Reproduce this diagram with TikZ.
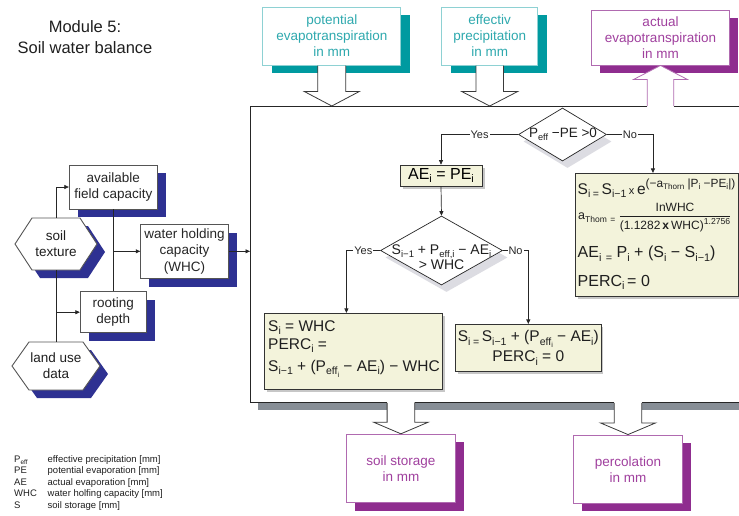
\documentclass[tikz,border=0pt]{standalone}
\usepackage{fontspec}
\setmainfont{Liberation Sans}
\usetikzlibrary{arrows.meta,shapes.geometric,shadows,calc}
\definecolor{teal1}{HTML}{009AA0}
\definecolor{tealB}{HTML}{8ED1D3}
\definecolor{tealT}{HTML}{2EA9AE}
\definecolor{purp}{HTML}{8F2D8F}
\definecolor{purpB}{HTML}{B06AB0}
\definecolor{purpT}{HTML}{A0409E}
\definecolor{navy}{HTML}{2E3192}
\definecolor{shgray}{HTML}{878E96}
\definecolor{cream}{HTML}{F3F3DB}
\definecolor{dshadow}{HTML}{DCDCE2}
\definecolor{arrc}{HTML}{3A3A3A}
\definecolor{boxd}{HTML}{555555}
\makeatletter
\newcommand\sbx[1]{\raisebox{\fpeval{-0.22*\f@size}pt}{\fontsize{\fpeval{0.68*\f@size}}{1}\selectfont #1}}
\newcommand\spx[1]{\raisebox{\fpeval{0.42*\f@size}pt}{\fontsize{\fpeval{0.72*\f@size}}{1}\selectfont #1}}
\makeatother
\newcommand\blkdown[7]{%
 \fill[white] let \p1=#1, \p2=#2 in (\x2-#4,\y1#7) -- (\x2-#4,\y2+#6) -- (\x2-#5,\y2+#6) -- (\x2,\y2) -- (\x2+#5,\y2+#6) -- (\x2+#4,\y2+#6) -- (\x2+#4,\y1#7) -- cycle;
 \draw[#3,line width=0.8pt] let \p1=#1, \p2=#2 in (\x2-#4,\y1) -- (\x2-#4,\y2+#6) -- (\x2-#5,\y2+#6) -- (\x2,\y2) -- (\x2+#5,\y2+#6) -- (\x2+#4,\y2+#6) -- (\x2+#4,\y1);}
\newcommand\blkup[7]{%
 \fill[white] let \p1=#1, \p2=#2 in (\x2-#4,\y1#7) -- (\x2-#4,\y2-#6) -- (\x2-#5,\y2-#6) -- (\x2,\y2) -- (\x2+#5,\y2-#6) -- (\x2+#4,\y2-#6) -- (\x2+#4,\y1#7) -- cycle;
 \draw[#3,line width=0.8pt] let \p1=#1, \p2=#2 in (\x2-#4,\y1) -- (\x2-#4,\y2-#6) -- (\x2-#5,\y2-#6) -- (\x2,\y2) -- (\x2+#5,\y2-#6) -- (\x2+#4,\y2-#6) -- (\x2+#4,\y1);}
\begin{document}
\begin{tikzpicture}[x=1pt,y=-1pt,
  tbox/.style={draw=tealB, line width=1pt, fill=white, text=tealT, align=center, inner sep=0pt,
    font=\fontsize{13.5}{16}\selectfont,
    drop shadow={fill=teal1, opacity=1, shadow xshift=9pt, shadow yshift=-8pt}},
  pbox/.style={draw=purpB, line width=1pt, fill=white, text=purpT, align=center, inner sep=0pt,
    font=\fontsize{13.5}{16}\selectfont,
    drop shadow={fill=purp, opacity=1, shadow xshift=8.5pt, shadow yshift=-8pt}},
  nbox/.style={draw=boxd, line width=0.9pt, fill=white, text=black!85, align=center, inner sep=0pt,
    font=\fontsize{13.5}{16.5}\selectfont,
    drop shadow={fill=navy, opacity=1, shadow xshift=8.3pt, shadow yshift=-8.3pt}},
  cbox/.style={draw=black!80, line width=0.7pt, fill=cream, inner sep=0pt,
    drop shadow={fill=black!22, opacity=1, shadow xshift=2.5pt, shadow yshift=-2.5pt}},
  dia/.style={diamond, draw=black!85, line width=0.7pt, fill=white, inner sep=0pt,
    drop shadow={fill=dshadow, opacity=1, shadow xshift=5pt, shadow yshift=-7pt}},
  hexs/.style={draw=boxd, line width=0.9pt, fill=white},
  txt/.style={inner sep=0pt, text=black!88},
  ln/.style={draw=black!85, line width=0.7pt},
  arr/.style={draw=black!85, line width=0.7pt, -{Triangle[length=4.5pt,width=4pt]}},
  lbl/.style={fill=white, inner sep=1pt, text=black!85, font=\fontsize{11}{13}\selectfont}]
\useasboundingbox (0,0) rectangle (739,515);
\clip (0,0) rectangle (739,515);

% title
\node[txt, font=\fontsize{16.5}{21}\selectfont, align=center] (title) at (85,37.5) {Module 5:\\Soil water balance};

% big frame
\node[draw=black!85, line width=0.8pt, fill=white, inner sep=0pt, minimum width=500pt, minimum height=296pt,
  anchor=north west, drop shadow={fill=shgray, opacity=1, shadow xshift=8pt, shadow yshift=-7.5pt}] (big) at (250,106) {};

% top and bottom boxes
\node[tbox, minimum width=137.7pt, minimum height=58pt] (pe) at (331.8,36) {potential\\evapotranspiration\\in mm};
\node[tbox, minimum width=96pt, minimum height=58pt] (ep) at (489.7,36) {effectiv\\precipitation\\in mm};
\node[pbox, minimum width=137.6pt, minimum height=55pt] (ae) at (660.5,37.5) {actual\\evapotranspiration\\in mm};
\node[pbox, minimum width=109.7pt, minimum height=68.4pt] (ss) at (400.9,468.5) {soil storage\\in mm};
\node[pbox, minimum width=109.4pt, minimum height=68.3pt] (perc) at (628,469.2) {percolation\\in mm};

% block arrows
\blkdown{(pe.south)}{(pe.south |- big.north)}{arrc}{14pt}{27.5pt}{14.5pt}{-0.6pt}
\blkdown{(ep.south)}{(ep.south |- big.north)}{arrc}{13.7pt}{28pt}{14.5pt}{-0.6pt}
\blkup{(ae.south |- big.north)}{(ae.south)}{purpB}{13.3pt}{27pt}{14pt}{-0.8pt}
\blkdown{(big.south -| ss.north)}{(ss.north)}{arrc}{13.8pt}{27.3pt}{11.6pt}{+0.8pt}
\blkdown{(big.south -| perc.north)}{(perc.north)}{arrc}{13.8pt}{27.5pt}{11.6pt}{+0.8pt}

% left inputs
\fill[navy] (23,252) -- (40,226) -- (88,226) -- (105,252) -- (88,278) -- (40,278) -- cycle;
\draw[hexs] (15,244) -- (32,218) -- (80,218) -- (97,244) -- (80,270) -- (32,270) -- cycle;
\node[txt, minimum width=82pt, minimum height=52pt, align=center, font=\fontsize{13.5}{16}\selectfont] (tex) at (56,244) {soil\\texture};
\fill[navy] (20,374) -- (37,350) -- (91,350) -- (108,374) -- (91,398) -- (37,398) -- cycle;
\draw[hexs] (12,366) -- (29,342) -- (83,342) -- (100,366) -- (83,390) -- (29,390) -- cycle;
\node[txt, minimum width=88pt, minimum height=48pt, align=center, font=\fontsize{13.5}{16}\selectfont] (luse) at (56,366) {land use\\data};

\node[nbox, minimum width=88pt, minimum height=44pt] (afc) at (113.3,187) {available\\field capacity};
\node[nbox, minimum width=87.6pt, minimum height=54pt] (whc) at (184.5,251.3) {water holding\\capacity\\(WHC)};
\node[nbox, minimum width=66pt, minimum height=41pt] (rd) at (113.3,312.2) {rooting\\depth};

\draw[arr] (tex.north) |- (afc.west);
\draw[ln] (tex.south) -- (luse.north);
\draw[arr] (tex.south |- rd.west) -- (rd.west);
\draw[ln] (afc.south) -- (rd.north);
\draw[arr] (afc.south |- whc.west) -- (whc.west);
\draw[arr] (whc.east) -- (whc.east -| big.west);

% flowchart
\node[dia, minimum width=88pt, minimum height=53pt] (d1) at (562.5,134.5) {};
\node[txt, font=\fontsize{13.5}{16}\selectfont] (d1t) at (563,134) {P\sbx{eff} −PE >0};
\node[cbox, minimum width=82pt, minimum height=21pt, font=\fontsize{16}{18}\selectfont] (ae1) at (441,175.5) {AE\sbx{i} = PE\sbx{i}};
\node[dia, minimum width=122pt, minimum height=69pt] (d2) at (441.5,250.5) {};
\node[txt, font=\fontsize{14}{15.5}\selectfont, align=center] (d2t) at (441.5,257) {S\sbx{i−1} + P\sbx{eff,i} − AE\sbx{i}\\> WHC};

\node[cbox, minimum width=178.7pt, minimum height=76pt] (lb) at (353.4,351.3) {};
\node[txt, anchor=base west, font=\fontsize{15.5}{17}\selectfont] (l1) at (268,331) {S\sbx{i} = WHC};
\node[txt, anchor=base west, font=\fontsize{15.5}{17}\selectfont] (l2) at (268,349) {PERC\sbx{i} =};
\node[txt, anchor=base west, font=\fontsize{15.5}{17}\selectfont] (l3) at (268,371.5) {S\sbx{i−1} + (P\sbx{eff\sbx{i}} − AE\sbx{i}) − WHC};

\node[cbox, minimum width=145.3pt, minimum height=47.4pt] (mb) at (528.3,348) {};
\node[txt, font=\fontsize{15.5}{17}\selectfont] (m1) at (528.3,339) {S\sbx{i}\,\sbx{=}\,S\sbx{i−1} + (P\sbx{eff\sbx{i}} − AE\sbx{i})};
\node[txt, font=\fontsize{15.5}{17}\selectfont] (m2) at (528.3,358) {PERC\sbx{i} = 0};

\node[cbox, minimum width=163pt, minimum height=123.4pt] (rb) at (656.5,235) {};
\node[txt, anchor=base west, font=\fontsize{15.5}{17}\selectfont] (r1) at (577.5,194) {S\sbx{i}\,\sbx{=}\,S\sbx{i−1}\,{\fontsize{11}{12}\selectfont x}\,e{\fontsize{16.5}{18}\selectfont\spx{(−a\sbx{Thorn} |P\sbx{i} −PE\sbx{i}|)}}};
\node[txt, anchor=west, font=\fontsize{12.5}{14}\selectfont] (r2a) at (578,217.5) {a\sbx{Thom} \sbx{=}};
\node[txt, font=\fontsize{12}{14}\selectfont] (r2b) at (675,217.5) {\begin{tabular}{@{}c@{}}InWHC\\[1pt]\hline\rule{0pt}{13pt}(1.1282\,\textbf{x}\,WHC)\spx{1.2756}\end{tabular}};
\node[txt, anchor=base west, font=\fontsize{16}{18}\selectfont] (r3) at (577.5,257.5) {AE\sbx{i} \sbx{=} P\sbx{i} + (S\sbx{i} − S\sbx{i−1})};
\node[txt, anchor=base west, font=\fontsize{16}{18}\selectfont] (r4) at (577.5,286) {PERC\sbx{i}\,= 0};

\coordinate (rbin) at ([xshift=78.3pt]rb.north west);
\coordinate (lbin) at ([xshift=82.7pt]lb.north west);
\draw[arr] (d1.west) -- node[lbl]{Yes} (d1.west -| ae1.north) -- (ae1.north);
\draw[arr] (d1.east) -- node[lbl]{No} (d1.east -| rbin) -- (rbin);
\draw[arr] (ae1.south) -- (d2.north);
\draw[arr] (d2.west) -- node[lbl]{Yes} (d2.west -| lbin) -- (lbin);
\draw[arr] (d2.east) -- node[lbl]{No} (d2.east -| mb.north) -- (mb.north);

% legend
\begin{scope}[every node/.style={txt, anchor=base west, font=\fontsize{9.5}{11}\selectfont}]
\node (g1a) at (14,462) {P\sbx{eff}};
\node (g1b) at (47.5,462) {effective precipitation [mm]};
\node (g2a) at (14,473.5) {PE};
\node (g2b) at (47.5,473.5) {potential evaporation [mm]};
\node (g3a) at (14,485) {AE};
\node (g3b) at (47.5,485) {actual evaporation [mm]};
\node (g4a) at (14,496.5) {WHC};
\node (g4b) at (47.5,496.5) {water holfing capacity [mm]};
\node (g5a) at (14,508) {S};
\node (g5b) at (47.5,508) {soil storage [mm]};
\end{scope}
\end{tikzpicture}
\end{document}
